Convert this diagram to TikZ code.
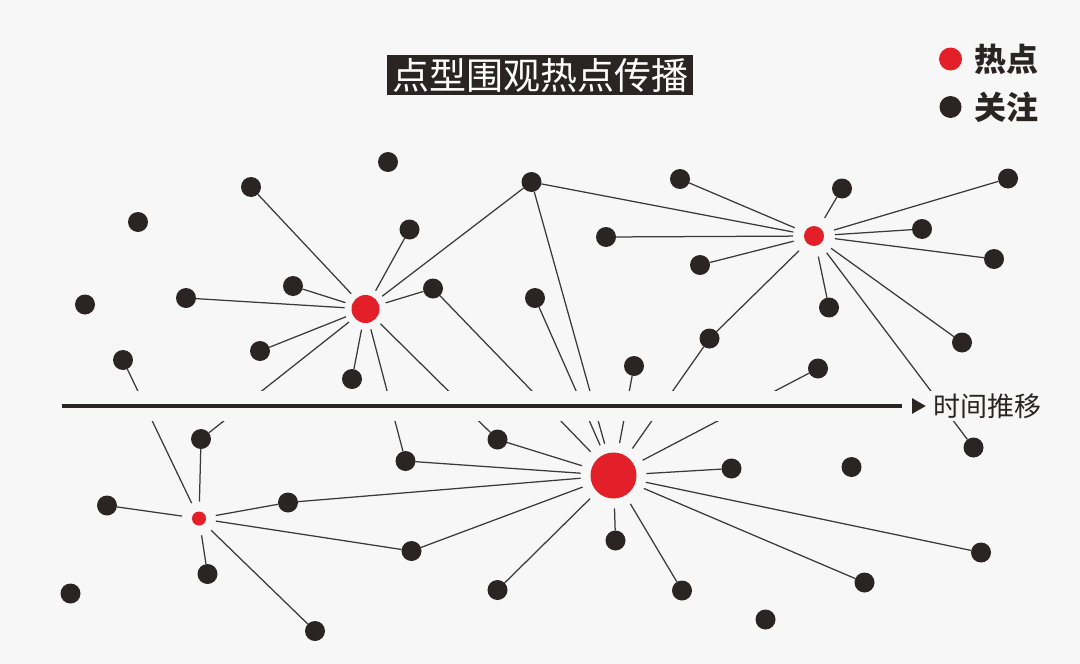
\documentclass[tikz,border=0pt]{standalone}
\usepackage{fontspec}
\usetikzlibrary{shapes.geometric}
\newfontfamily\cjk{Noto Sans CJK SC}
\definecolor{bg}{HTML}{F7F7F7}
\definecolor{ink}{HTML}{2A2422}
\definecolor{hot}{HTML}{E3202A}
\definecolor{edge}{HTML}{3A3A3A}
\tikzset{
  dot/.style={circle, fill=ink, minimum size=20pt, inner sep=0pt, outer sep=0pt},
  hotspot/.style={circle, inner sep=0pt, outer sep=0pt, minimum size=#1},
  link/.style={draw=edge, line width=1.25pt},
}
\begin{document}
\begin{tikzpicture}[x=1pt, y=-1pt]
\fill[bg] (0,0) rectangle (1080,664);
\useasboundingbox (0,0) rectangle (1080,664);
% hot spots (halo size = diameter of gap)
\node[hotspot=42pt] (H1) at (365.5,309) {};
\node[hotspot=42pt] (H2) at (814,236) {};
\node[hotspot=34pt] (H3) at (199,518.5) {};
\node[hotspot=66pt] (H4) at (613.5,475.5) {};
% black dots
\foreach \n/\x/\y in {
 d1/388/162, d2/251/187, d3/138/222, d4/531.5/182, d5/409.5/229.5, d6/293/286,
 d7/186/298, d8/85/304.5, d9/433/288.5, d10/535/298, d11/260/351, d12/352/379,
 d13/123/360, d14/680/179, d15/842/188.5, d16/1008/178.5, d17/606/237, d18/922/229,
 d19/700/265, d20/994/259, d21/829/307.5, d22/709.5/338.5, d23/962/342.5, d24/634/366,
 d25/818/368.5,
 d26/201/439, d27/405.5/461, d28/497.5/439.5, d29/107/505.5, d30/288/502.5,
 d31/411.5/551, d32/207.5/574, d33/70.5/593.5, d34/315/631, d35/497.5/590,
 d36/731.5/468.5, d37/851.5/467, d38/973.5/447.5, d39/615.5/540.5, d40/682/590.5,
 d41/864.5/582.5, d42/981/552.5, d43/765.5/619.5}
 \node[dot] (\n) at (\x,\y) {};
% connectors
\foreach \a/\b in {
 d2/H1, d4/H1, d5/H1, d6/H1, d7/H1, d9/H1, d11/H1, d12/H1, d26/H1, d27/H1, d28/H1,
 d4/H2, d14/H2, d15/H2, d16/H2, d17/H2, d18/H2, d19/H2, d20/H2, d21/H2, d22/H2, d23/H2, d38/H2,
 d13/H3, d26/H3, d29/H3, d30/H3, d31/H3, d32/H3, d34/H3,
 d9/H4, d4/H4, d10/H4, d24/H4, d22/H4, d25/H4, d27/H4, d28/H4, d30/H4, d31/H4,
 d35/H4, d36/H4, d39/H4, d40/H4, d41/H4, d42/H4}
 \draw[link] (\a) -- (\b);
% red cores
\fill[hot] (H1.center) circle[radius=14pt];
\fill[hot] (H2.center) circle[radius=10pt];
\fill[hot] (H3.center) circle[radius=7pt];
\fill[hot] (H4.center) circle[radius=23pt];
% gap band around the time axis
\fill[bg] (0,390.5) rectangle (1080,421);
% time axis
\coordinate (t0) at (61.5,406);
\coordinate (t1) at (902,406);
\draw[ink, line width=4.8pt] (t0) -- (t1);
\node[fill=ink, isosceles triangle, isosceles triangle apex angle=60, inner sep=0pt,
      minimum height=13.5pt, minimum width=14pt, anchor=west] (tip) at (912,406) {};
\node[anchor=west, inner sep=0pt, text=ink, font=\cjk\fontsize{27}{30}\selectfont] (tl) at (933,406) {时间推移};
% title
\node[fill=ink, text=white, inner sep=0pt, minimum width=306pt, minimum height=40pt,
      font=\cjk\fontsize{37}{40}\selectfont] (title) at (540,75) {点型围观热点传播};
% legend
\node[circle, fill=hot, minimum size=23pt, inner sep=0pt] (lr) at (950.5,59) {};
\node[circle, fill=ink, minimum size=22pt, inner sep=0pt] (lb) at (950.5,107) {};
\node[anchor=west, inner sep=0pt, text=ink, font=\cjk\bfseries\fontsize{32}{36}\selectfont] (lt1) at (974,59) {热点};
\node[anchor=west, inner sep=0pt, text=ink, font=\cjk\bfseries\fontsize{32}{36}\selectfont] (lt2) at (974,107) {关注};
\end{tikzpicture}
\end{document}
